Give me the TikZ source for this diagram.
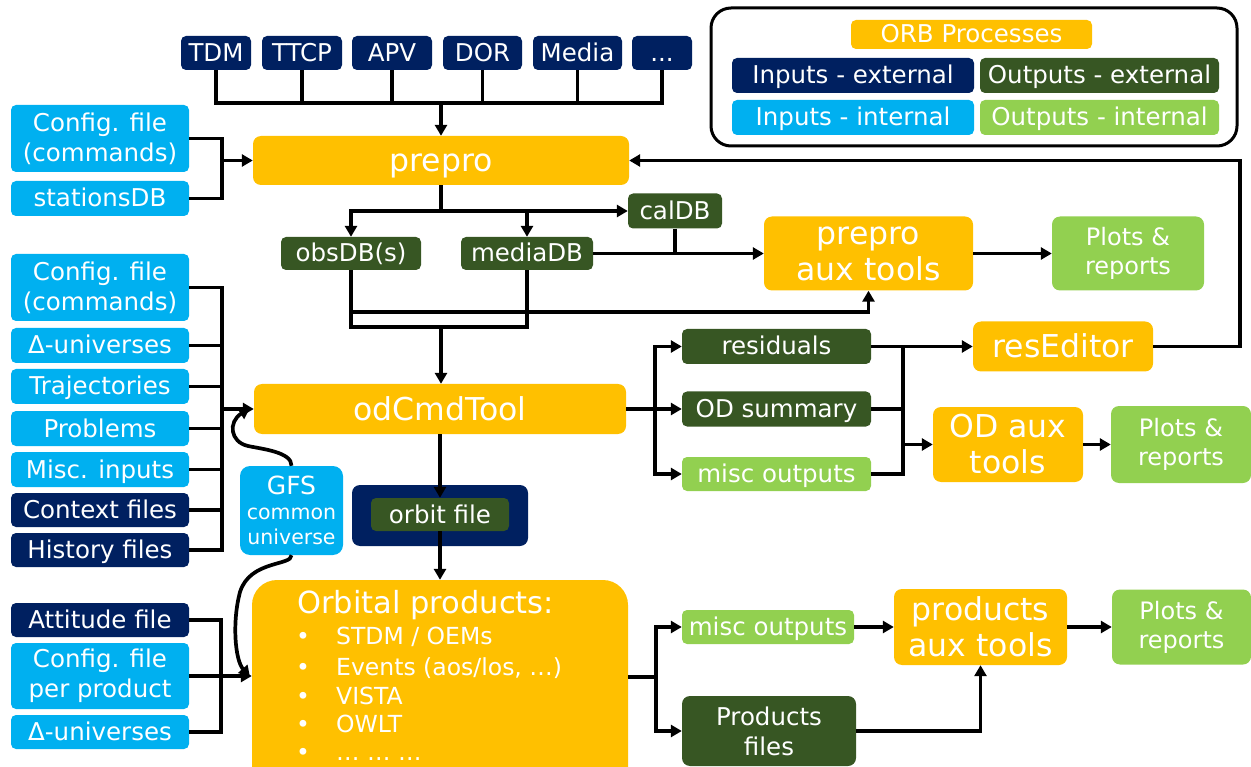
\documentclass[tikz,border=0pt]{standalone}
\usepackage{fontspec}
\setmainfont{DejaVu Sans}
\usetikzlibrary{arrows.meta}
\definecolor{cnavy}{HTML}{002060}
\definecolor{clblue}{HTML}{00B0F0}
\definecolor{cdgreen}{HTML}{375623}
\definecolor{clgreen}{HTML}{92D050}
\definecolor{corange}{HTML}{FFC000}
\newcommand{\lblfont}{\fontsize{24.5}{30}\selectfont}
\newcommand{\procfont}{\fontsize{31.5}{36}\selectfont}
\newcommand{\itemfont}{\fontsize{23.5}{28}\selectfont}
\newcommand{\gfssmall}{\fontsize{20.5}{25}\selectfont}

\begin{document}
\begin{tikzpicture}[x=1pt,y=-1pt,
  wh/.style 2 args={minimum width=#1pt, minimum height=#2pt},
  box/.style={rounded corners=5pt, inner sep=0pt, text=white, font=\lblfont, align=center},
  one/.style={text height=18pt, text depth=1pt},
  onebig/.style={text height=23pt, text depth=0pt},
  navy/.style={box, fill=cnavy},
  lblue/.style={box, fill=clblue},
  dgreen/.style={box, fill=cdgreen},
  lgreen/.style={box, fill=clgreen},
  proc/.style={box, fill=corange, rounded corners=8pt, font=\procfont},
  ln/.style={line width=3.7pt, line join=miter},
  arr/.style={ln, -{Triangle[length=11pt,width=12pt]}},
  txt/.style={inner sep=0pt, text=white, anchor=base west}]
\clip (0,0) rectangle (1251,767);

% ---------- legend ----------
\node[draw, line width=3pt, rounded corners=20pt, wh={526}{138}] (legend) at (974,77) {};
\node[proc, one, font=\lblfont, rounded corners=5pt, wh={241}{29}] (lgorb) at (971.5,34.5) {ORB Processes};
\node[navy, one, wh={242}{35}] (lginext) at (853,75.5) {Inputs - external};
\node[dgreen, one, wh={239}{35}] (lgoutext) at (1099.5,75.5) {Outputs - external};
\node[lblue, one, wh={242}{35}] (lginint) at (853,117.5) {Inputs - internal};
\node[lgreen, one, wh={239}{35}] (lgoutint) at (1099.5,117.5) {Outputs - internal};

% ---------- external measurement inputs ----------
\node[navy, one, wh={70}{34}] (tdm) at (216,53) {TDM};
\node[navy, one, wh={80}{34}] (ttcp) at (302,53) {TTCP};
\node[navy, one, wh={80}{34}] (apv) at (392,53) {APV};
\node[navy, one, wh={79}{34}] (dor) at (482.5,53) {DOR};
\node[navy, one, wh={89}{34}] (media) at (577.5,53) {Media};
\node[navy, one, wh={60}{34}] (dots) at (662,53) {...};

% ---------- preprocessing ----------
\node[lblue, wh={178}{67}] (cfg1) at (100,138.5) {Config. file\\(commands)};
\node[lblue, one, wh={178}{35}] (stdb) at (100,198.5) {stationsDB};
\node[proc, onebig, wh={376}{49}] (prepro) at (441,160.5) {prepro};
\node[dgreen, one, wh={94}{35}] (caldb) at (675,211) {calDB};
\node[dgreen, one, wh={140}{33}] (obsdb) at (351,253.5) {obsDB(s)};
\node[dgreen, one, wh={132}{33}] (mediadb) at (527,253.5) {mediaDB};
\node[proc, wh={209}{74}] (ppaux) at (868.5,253.5) {prepro\\aux tools};
\node[lgreen, rounded corners=8pt, wh={152}{74}, font=\fontsize{24}{29}\selectfont] (plots1) at (1128,253.5) {Plots \&\\reports};

% ---------- orbit determination ----------
\node[lblue, wh={178}{67}] (cfg2) at (100,287.5) {Config. file\\(commands)};
\node[lblue, one, wh={178}{35}] (du1) at (100,345.5) {Δ-universes};
\node[lblue, one, wh={178}{35}] (traj) at (100,386.5) {Trajectories};
\node[lblue, one, wh={178}{35}] (prob) at (100,428.5) {Problems};
\node[lblue, one, wh={178}{35}] (misc) at (100,469.5) {Misc. inputs};
\node[navy, one, wh={178}{34}] (ctx) at (100,510) {Context files};
\node[navy, one, wh={178}{34}] (hist) at (100,550) {History files};
\node[proc, onebig, wh={372}{50}] (odcmd) at (440,409) {odCmdTool};
\node[lblue, rounded corners=10pt, wh={103}{89}, font=\gfssmall] (gfs) at (291.5,510.5)
  {{\fontsize{25}{25}\selectfont GFS}\\common\\universe};
\node[navy, rounded corners=8pt, wh={176}{61}] (orbout) at (440,515.5) {};
\node[dgreen, one, wh={138}{33}] (orbin) at (440,514.5) {orbit file};

\node[dgreen, one, wh={189}{35}] (resid) at (776.5,346.5) {residuals};
\node[dgreen, one, wh={189}{35}] (odsum) at (776.5,409) {OD summary};
\node[lgreen, one, wh={189}{34}] (miscout) at (776.5,474) {misc outputs};
\node[proc, onebig, wh={180}{50}] (resed) at (1063,346.5) {resEditor};
\node[proc, wh={150}{75}] (odaux) at (1008,444.5) {OD aux\\tools};
\node[lgreen, rounded corners=8pt, wh={140}{77}, font=\fontsize{24}{29}\selectfont] (plots2) at (1181,444.5) {Plots \&\\reports};

% ---------- orbital products ----------
\node[navy, one, wh={178}{34}] (att) at (100,620) {Attitude file};
\node[lblue, wh={178}{66}] (cfg3) at (100,676) {Config. file\\per product};
\node[lblue, one, wh={178}{34}] (du2) at (100,732) {Δ-universes};
\node[box, fill=corange, rounded corners=25pt, wh={376}{220}] (orbital) at (440,690) {};
\node[txt, font=\fontsize{30.5}{30}\selectfont] (otitle) at (297,613) {Orbital products:};
\node[txt, font=\itemfont] (ob1) at (296,644) {•};
\node[txt, font=\itemfont] (oi1) at (336,644) {STDM / OEMs};
\node[txt, font=\itemfont] (ob2) at (296,675) {•};
\node[txt, font=\itemfont] (oi2) at (336,675) {Events (aos/los, …)};
\node[txt, font=\itemfont] (ob3) at (296,704) {•};
\node[txt, font=\itemfont] (oi3) at (336,704) {VISTA};
\node[txt, font=\itemfont] (ob4) at (296,732) {•};
\node[txt, font=\itemfont] (oi4) at (336,732) {OWLT};
\node[txt, font=\itemfont] (ob5) at (296,760) {•};
\node[txt, font=\itemfont] (oi5) at (336,760) {… … …};

\node[lgreen, one, wh={172}{34}] (misc2) at (768,627) {misc outputs};
\node[dgreen, rounded corners=8pt, wh={174}{70}] (prodf) at (769,731) {Products\\files};
\node[proc, wh={173}{76}] (prodaux) at (980.5,627) {products\\aux tools};
\node[lgreen, rounded corners=8pt, wh={139}{75}, font=\fontsize{24}{29}\selectfont] (plots3) at (1181.5,627) {Plots \&\\reports};

% ---------- connectors: preprocessing ----------
\coordinate (tb) at (441,103);
\draw[ln] (tdm.south) |- (dots.south |- tb) -- (dots.south);
\foreach \n in {ttcp,apv,dor,media} \draw[ln] (\n.south) -- (\n.south |- tb);
\draw[arr] (tb) -- (prepro.north);

\coordinate (lb1) at (222,160.5);
\draw[ln] (cfg1.east) -| (lb1) |- (stdb.east);
\draw[arr] (lb1) -- (prepro.west);

\coordinate (j1) at (441,211);
\draw[ln] (prepro.south) -- (j1);
\draw[arr] (j1) -| (obsdb.north);
\draw[arr] (j1) -| (mediadb.north);
\draw[arr] (j1) -- (caldb.west);
\draw[ln] (caldb.south) -- (caldb.south |- mediadb.east);
\draw[arr] (mediadb.east) -- (ppaux.west);
\draw[arr] (ppaux.east) -- (plots1.west);

\coordinate (j2) at (441,327);
\coordinate (j3) at (351,312);
\draw[ln] (obsdb.south) |- (mediadb.south |- j2) -- (mediadb.south);
\draw[arr] (j3) -| (ppaux.south);
\draw[arr] (j2) -- (j2 |- odcmd.north);

% ---------- connectors: orbit determination ----------
\coordinate (lb2) at (222,409);
\draw[ln] (cfg2.east) -| (lb2) |- (hist.east);
\foreach \n in {du1,traj,prob,misc,ctx} \draw[ln] (\n.east) -- (\n.east -| lb2);
\draw[arr] (lb2) -- (odcmd.west);

\coordinate (gfsin1) at (250,408);
\coordinate (gfsin2) at (250,677);
\draw[arr] (gfs.north) .. controls (292,452) and (262,449) .. (248,446)
  .. controls (230,442) and (228,422) .. (gfsin1);
\draw[arr] (gfs.south) .. controls (292,566) and (250,560) .. (240,592)
  .. controls (232,622) and (235,660) .. (gfsin2);

\draw[arr] (odcmd.south) -- (orbin.north);
\draw[arr] (orbin.south) -- (orbital.north);

\coordinate (rb1) at (655,409);
\draw[ln] (odcmd.east) -- (rb1);
\draw[arr] (rb1) |- (resid.west);
\draw[arr] (rb1) |- (miscout.west);
\draw[arr] (rb1) -- (odsum.west);

\coordinate (rb2) at (903,444.5);
\draw[ln] (resid.east -| rb2) |- (miscout.east);
\draw[ln] (odsum.east) -- (odsum.east -| rb2);
\draw[arr] (resid.east) -- (resed.west);
\draw[arr] (rb2) -- (odaux.west);
\draw[arr] (odaux.east) -- (plots2.west);

\coordinate (fb) at (1240,160.5);
\draw[arr] (resed.east) -| (fb) -- (prepro.east);

% ---------- connectors: orbital products ----------
\coordinate (lb3) at (221,676);
\draw[ln] (att.east) -| (lb3) |- (du2.east);
\draw[ln] (cfg3.east) -- (lb3);
\draw[arr] (lb3) -- (orbital.west |- lb3);

\coordinate (pb) at (656,677);
\draw[ln] (orbital.east |- pb) -- (pb);
\draw[arr] (pb) |- (misc2.west);
\draw[arr] (pb) |- (prodf.west);
\draw[arr] (misc2.east) -- (prodaux.west);
\draw[arr] (prodf.east) -| (prodaux.south);
\draw[arr] (prodaux.east) -- (plots3.west);
\end{tikzpicture}
\end{document}
